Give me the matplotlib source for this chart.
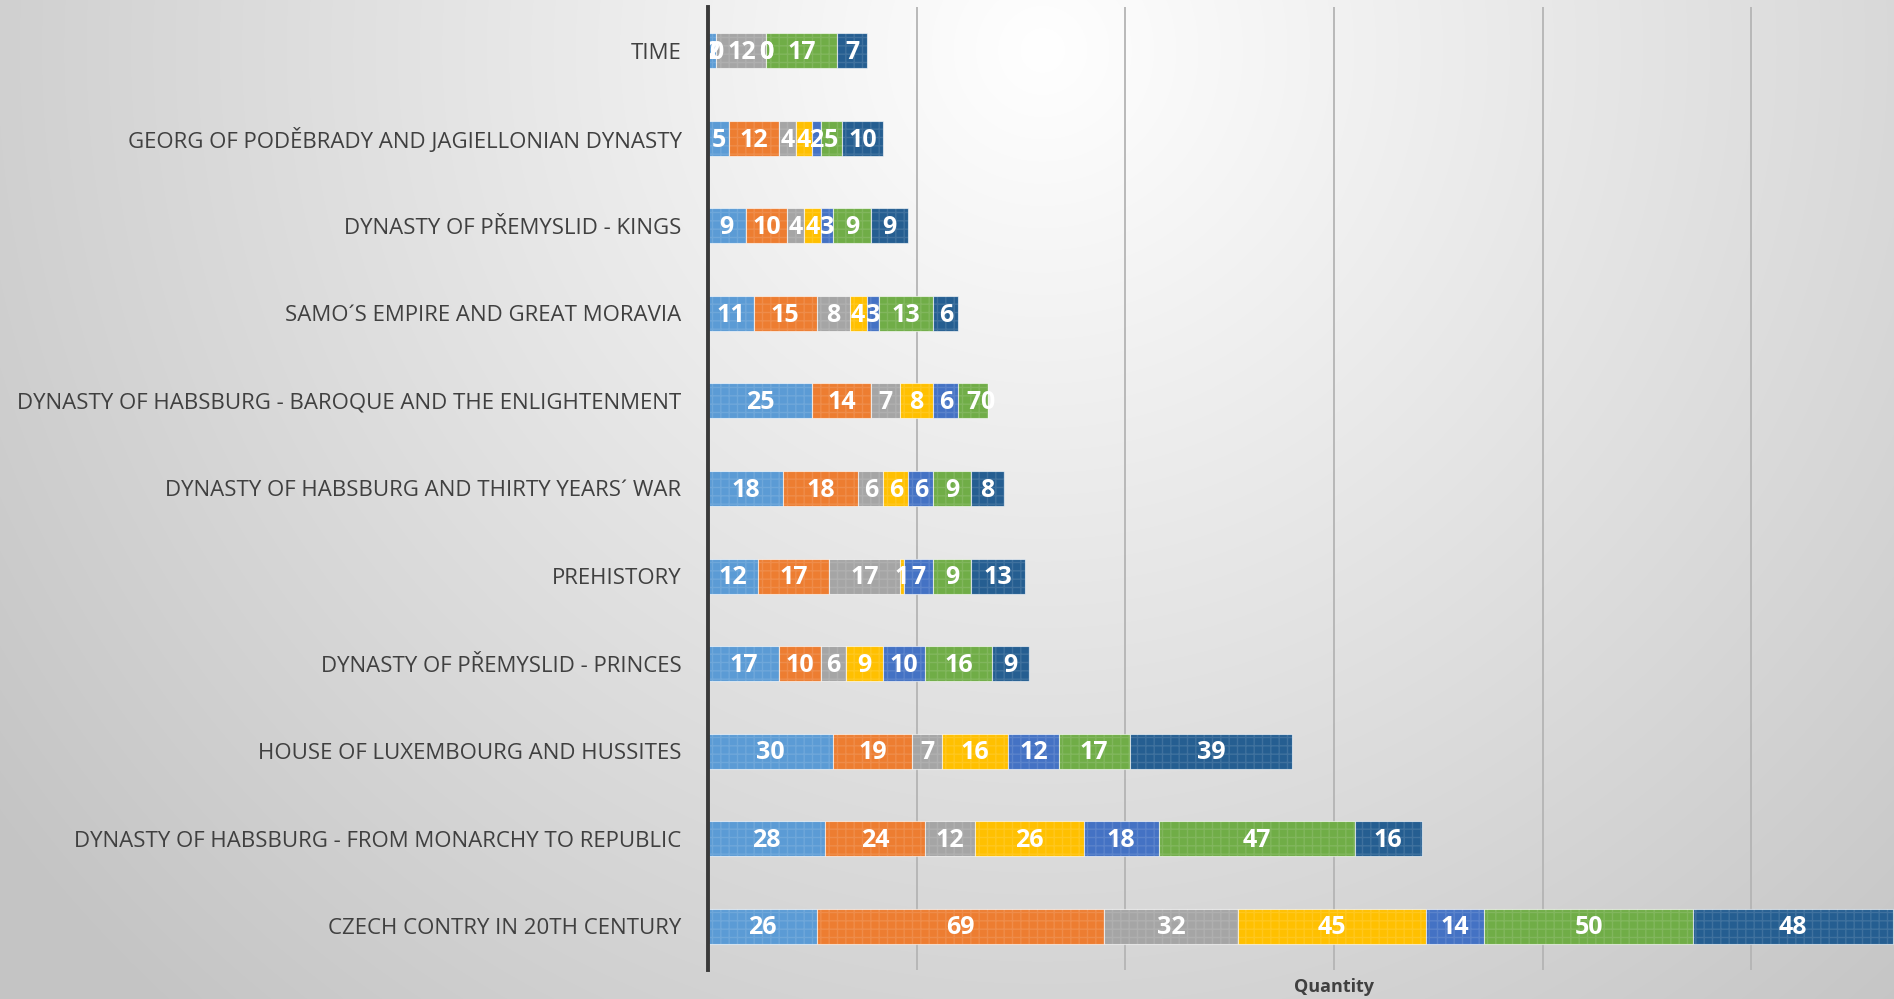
import matplotlib
matplotlib.use("Agg")
import matplotlib.pyplot as plt
import numpy as np

# categories, top to bottom as in the chart
categories = [
    'TIME',
    'GEORG OF PODĚBRADY AND JAGIELLONIAN DYNASTY',
    'DYNASTY OF PŘEMYSLID - KINGS',
    'SAMO´S EMPIRE AND GREAT MORAVIA',
    'DYNASTY OF HABSBURG - BAROQUE AND THE ENLIGHTENMENT',
    'DYNASTY OF HABSBURG AND THIRTY YEARS´ WAR',
    'PREHISTORY',
    'DYNASTY OF PŘEMYSLID - PRINCES',
    'HOUSE OF LUXEMBOURG AND HUSSITES',
    'DYNASTY OF HABSBURG - FROM MONARCHY TO REPUBLIC',
    'CZECH CONTRY IN 20TH CENTURY',
]

# seven stacked series (one value per category, same order)
s1 = [2, 5, 9, 11, 25, 18, 12, 17, 30, 28, 26]
s2 = [0, 12, 10, 15, 14, 18, 17, 10, 19, 24, 69]
s3 = [12, 4, 4, 8, 7, 6, 17, 6, 7, 12, 32]
s4 = [0, 4, 4, 4, 8, 6, 1, 9, 16, 26, 45]
s5 = [0, 2, 3, 3, 6, 6, 7, 10, 12, 18, 14]
s6 = [17, 5, 9, 13, 7, 9, 9, 16, 17, 47, 50]
s7 = [7, 10, 9, 6, 0, 8, 13, 9, 39, 16, 48]

series = [s1, s2, s3, s4, s5, s6, s7]
colors = ['#5B9BD5', '#ED7D31', '#A5A5A5', '#FFC000', '#4472C4', '#70AD47', '#255E91']

W, H = 1894, 999
fig = plt.figure(figsize=(W / 100, H / 100), dpi=100)

# background: soft radial grey gradient
bg = fig.add_axes([0, 0, 1, 1])
yy, xx = np.mgrid[0:H, 0:W]
d = np.hypot(xx - 0.55 * W, yy - 0.05 * H)
shade = np.clip(1.0 - d * 0.045 / 255.0, 0.77, 1.0)
bg.imshow(np.dstack([shade, shade, shade]), aspect='auto', extent=[0, 1, 0, 1])
bg.axis('off')

# plot area runs past the right edge (chart cropped)
left = 708 / W
width = 1252 / W
bottom = 1 - 970 / H
height = (970 - 7) / H
ax = fig.add_axes([left, bottom, width, height])
ax.patch.set_alpha(0)

y = np.arange(len(categories))
base = np.zeros(len(categories))
for vals, col in zip(series, colors):
    vals = np.array(vals, dtype=float)
    ax.barh(y, vals, left=base, height=0.4, color=col,
            edgecolor=(1, 1, 1, 0.6), linewidth=0.8, zorder=3)
    ax.barh(y, vals, left=base, height=0.4, fill=False, hatch='++',
            edgecolor=(1, 1, 1, 0.12), linewidth=0, zorder=3.5)
    for yi, b, v in zip(y, base, vals):
        ax.text(b + v / 2, yi + 0.02, '%d' % v, ha='center', va='center',
                color='white', fontsize=18, fontweight='bold',
                family=['Open Sans', 'DejaVu Sans'], zorder=5)
    base += vals

ax.set_xlim(0, 300)
ax.set_ylim(len(categories) - 0.5, -0.5)
ax.set_xticks([50, 100, 150, 200, 250])
ax.set_xticklabels([])
ax.tick_params(axis='x', length=0)
ax.tick_params(axis='y', length=0, pad=19)
ax.grid(axis='x', color='#b4b4b4', linewidth=1.3, zorder=0)
ax.set_yticks(y)
ax.set_yticklabels(categories, fontsize=16, color='#404040',
                   family=['Open Sans', 'DejaVu Sans'])
for side in ['top', 'right', 'bottom']:
    ax.spines[side].set_visible(False)
ax.spines['left'].set_color('#3a3a3a')
ax.spines['left'].set_linewidth(2.8)
ax.spines['left'].set_zorder(6)

fig.text((708 + 626) / W, 1 - 987 / H, 'Quantity', ha='center', va='center',
         fontsize=13, fontweight='bold', color='#404040',
         family=['Open Sans', 'DejaVu Sans'])

fig.savefig('out.png', dpi=100)
